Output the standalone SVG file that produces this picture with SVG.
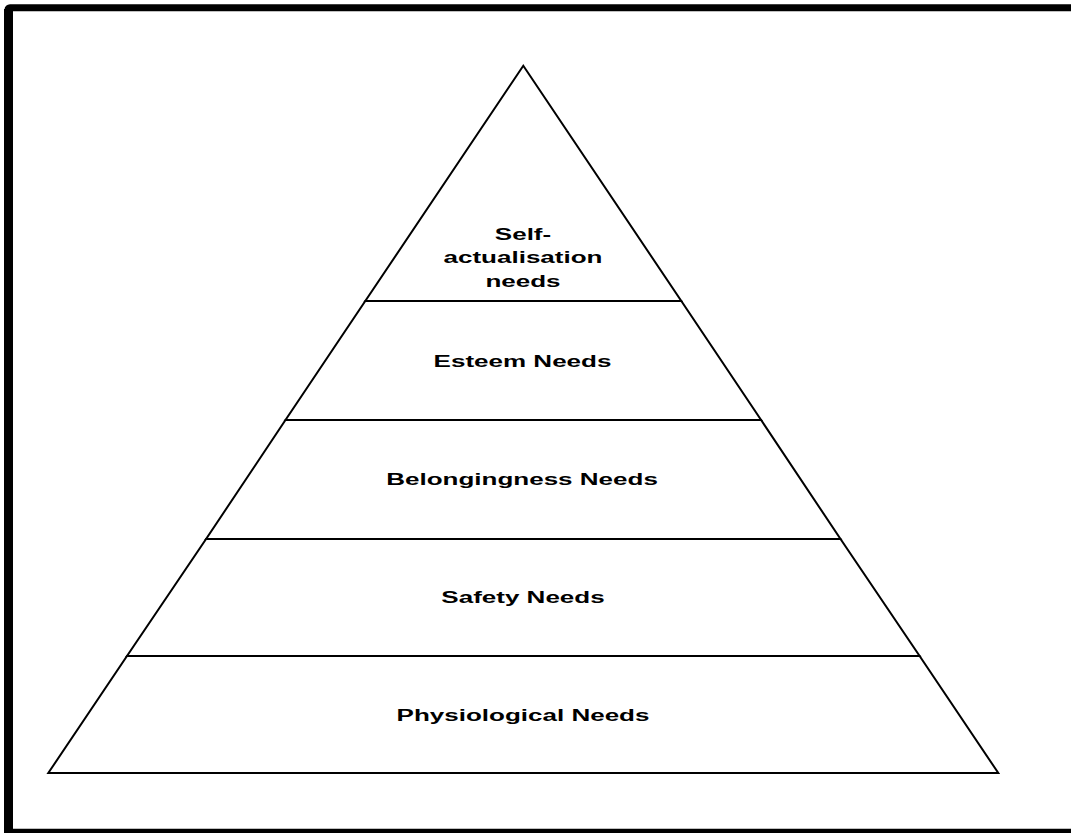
<svg xmlns="http://www.w3.org/2000/svg" width="1071" height="833" viewBox="0 0 1071 833">
  <style>
    .frame { fill: none; stroke: #000; stroke-width: 7; stroke-linejoin: round; }
    .tier { fill: #fff; stroke: #000; stroke-width: 2; stroke-linejoin: miter; }
    .label { font-family: "Liberation Sans", Arial, sans-serif; font-weight: bold; font-size: 17px; fill: #000; text-anchor: middle; }
  </style>
  <rect width="1071" height="833" fill="#fff"/>

  <!-- outer frame -->
  <g id="frame">
    <rect class="frame" x="8" y="7.7" width="1100" height="824.5" rx="2"/>
    <line x1="8.5" y1="9" x2="8.5" y2="833" stroke="#000" stroke-width="9"/>
  </g>

  <!-- pyramid tiers, top to bottom -->
  <g id="tier-self-actualisation">
    <polygon class="tier" points="523.3,65.7 681.3,301 365.3,301"/>
    <g transform="translate(523,0) scale(1.53,1)">
      <text class="label" x="0" y="240">Self-</text>
      <text class="label" x="0" y="263.5">actualisation</text>
      <text class="label" x="0" y="287">needs</text>
    </g>
  </g>

  <g id="tier-esteem">
    <polygon class="tier" points="365.3,301 681.3,301 761.1,420 285.5,420"/>
    <text class="label" transform="translate(522.5,366.7) scale(1.53,1)">Esteem Needs</text>
  </g>

  <g id="tier-belongingness">
    <polygon class="tier" points="285.5,420 761.1,420 840.5,539 206.1,539"/>
    <text class="label" transform="translate(522,485) scale(1.53,1)">Belongingness Needs</text>
  </g>

  <g id="tier-safety">
    <polygon class="tier" points="206.1,539 840.5,539 919.6,656 127,656"/>
    <text class="label" transform="translate(523,602.7) scale(1.53,1)">Safety Needs</text>
  </g>

  <g id="tier-physiological">
    <polygon class="tier" points="127,656 919.6,656 998.3,773 48.3,773"/>
    <text class="label" transform="translate(523,721) scale(1.53,1)">Physiological Needs</text>
  </g>
</svg>
